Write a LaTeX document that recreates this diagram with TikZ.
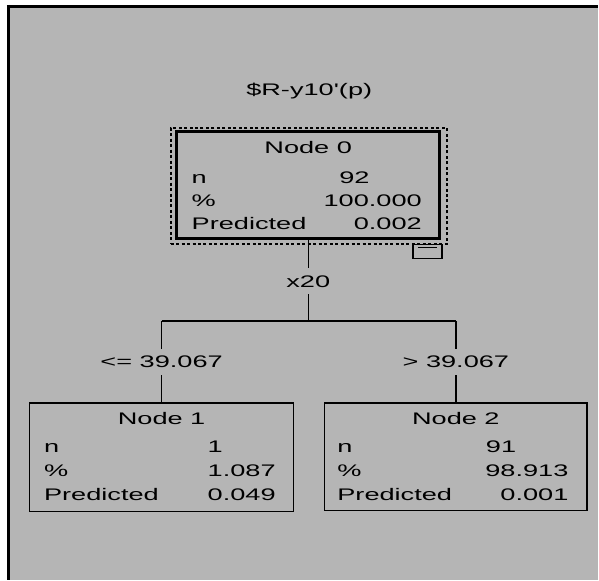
\documentclass[tikz,border=0pt]{standalone}
\usepackage{fontspec}
\setmainfont{Liberation Sans}[FakeStretch=1.62, Ligatures=TeXOff]
\usetikzlibrary{positioning}
\definecolor{panelgrey}{HTML}{B5B5B5}
\tikzset{
  treebox/.style={rectangle, draw=black, line width=#1, inner sep=0pt},
  treebox/.default=1.3pt,
  halo/.style={rectangle, draw=black, line width=2pt,
    dash pattern=on 3pt off 2.5pt, inner sep=0pt},
  lbl/.style={inner sep=0pt, anchor=base west},
  valw/.style={inner sep=0pt, anchor=base west},
  vale/.style={inner sep=0pt, anchor=base east},
  cutlabel/.style={inner sep=0pt, minimum height=26pt},
  branch/.style={draw=black, line width=1.4pt},
}

\begin{document}
\begin{tikzpicture}[x=1pt, y=-1pt, font=\fontsize{16.8}{20}\selectfont]
  % canvas
  \fill[white] (0,0) rectangle (599,581);
  \fill[panelgrey] (9,7) rectangle (599,581);
  \draw[line width=3pt] (7,6.5) -- (599,6.5);
  \draw[line width=2.5pt] (8.5,5) -- (8.5,581);
  \useasboundingbox (0,0) rectangle (599,581);

  % title
  \node[inner sep=0pt] (title) at (310,91) {\$R-y10'(p)};

  % root node
  \node[halo, minimum width=277pt, minimum height=117pt] (n0halo) at (309.5,186.5) {};
  \node[treebox=3pt, minimum width=264pt, minimum height=107pt] (n0) at (309,185.5) {};
  \node[treebox=1.3pt, minimum width=29pt, minimum height=14pt] (toggle) at (428.5,252) {};
  \draw[line width=1.3pt] ([shift={(6,4)}]toggle.north west) -- ([shift={(-6,4)}]toggle.north east);
  \node[inner sep=0pt, anchor=base] (n0head) at (309,154) {Node 0};
  \node[lbl] (n0n) at (192,184) {n};
  \node[lbl] (n0pct) at (192,207) {\%};
  \node[lbl] (n0pred) at (192,230) {Predicted};
  \node[valw] (n0nv) at (340,184) {92};
  \node[vale] (n0pctv) at (423,207) {100.000};
  \node[vale] (n0predv) at (423,230) {0.002};

  % split
  \node[cutlabel] (split) at (309,282) {x20};
  \coordinate (fork) at (309,322);
  \coordinate (forkL) at (162,322);
  \coordinate (forkR) at (457,322);
  \draw[branch] (n0.south) -- (split.north);
  \draw[branch] (split.south) -- (fork);
  \draw[branch] (forkL) -- (forkR);

  % branch labels
  \node[cutlabel] (le) at (162,363) {<= 39.067};
  \node[cutlabel] (gt) at (457,363) {> 39.067};
  \draw[branch] (forkL) -- (le.north);
  \draw[branch] (forkR) -- (gt.north);

  % left child
  \node[treebox, minimum width=265pt, minimum height=109pt] (n1) at (162,458.5) {};
  \draw[branch] (le.south) -- (n1.north);
  \node[inner sep=0pt, anchor=base] (n1head) at (162,426) {Node 1};
  \node[lbl] (n1n) at (44,454) {n};
  \node[lbl] (n1pct) at (44,478) {\%};
  \node[lbl] (n1pred) at (44,502) {Predicted};
  \node[valw] (n1nv) at (208,454) {1};
  \node[valw] (n1pctv) at (208,478) {1.087};
  \node[valw] (n1predv) at (208,502) {0.049};

  % right child
  \node[treebox, minimum width=263pt, minimum height=108pt] (n2) at (457,458) {};
  \draw[branch] (gt.south) -- (n2.north);
  \node[inner sep=0pt, anchor=base] (n2head) at (457,426) {Node 2};
  \node[lbl] (n2n) at (338,454) {n};
  \node[lbl] (n2pct) at (338,478) {\%};
  \node[lbl] (n2pred) at (338,502) {Predicted};
  \node[valw] (n2nv) at (487,454) {91};
  \node[vale] (n2pctv) at (570,478) {98.913};
  \node[vale] (n2predv) at (570,502) {0.001};
\end{tikzpicture}
\end{document}
